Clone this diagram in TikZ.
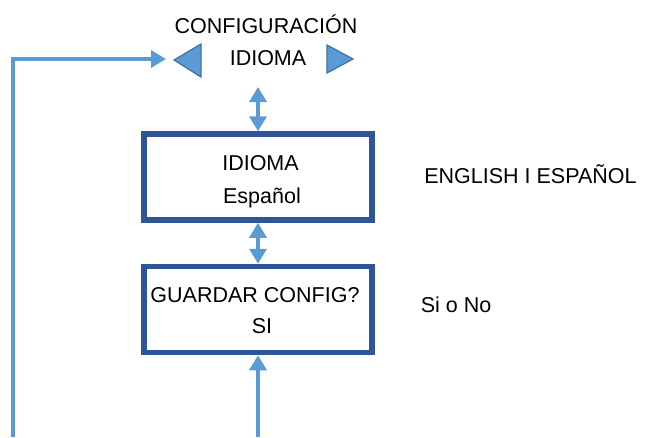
\documentclass[tikz,border=0pt]{standalone}
\usepackage{fontspec}
\setmainfont{Liberation Sans}
\usetikzlibrary{arrows.meta}
\definecolor{lblue}{HTML}{5B9BD5}
\definecolor{tborder}{HTML}{41719C}
\definecolor{dblue}{HTML}{2F5597}
\begin{document}
\begin{tikzpicture}[x=1pt,y=-1pt,
  txt/.style={anchor=base,inner sep=0pt,font=\fontsize{21.5}{25}\selectfont},
  box/.style={draw=dblue,line width=5.5pt,minimum width=228pt,minimum height=86pt,inner sep=0pt},
  conn/.style={draw=lblue,line width=3.5pt,-{Triangle[length=15pt,width=17pt]}},
  dconn/.style={draw=lblue,line width=3.5pt,{Triangle[length=15pt,width=17pt]}-{Triangle[length=15pt,width=17pt]}},
  tri/.style={fill=lblue,draw=tborder,line width=1.2pt,line join=miter}]
\useasboundingbox (0,0) rectangle (648,437);
% title texts
\node[txt] (conf) at (266,33) {CONFIGURACIÓN};
\node[txt] (idm) at (268,65) {IDIOMA};
% triangles
\coordinate (ltip) at (174,60);
\coordinate (rtip) at (353,59);
\draw[tri] (ltip) -- (201,44) -- (201,77) -- cycle;
\draw[tri] (rtip) -- (327,45) -- (327,73) -- cycle;
% boxes
\node[box] (b1) at (258,177) {};
\node[box] (b2) at (258,309.5) {};
\node[txt] (t1a) at (260.5,170) {IDIOMA};
\node[txt] (t1b) at (262,203) {Español};
\node[txt] (t2a) at (255,302) {GUARDAR CONFIG?};
\node[txt] (t2b) at (262,333) {SI};
% side texts
\node[txt] (eng) at (530.5,183) {ENGLISH I ESPAÑOL};
\node[txt] (sino) at (456,312) {Si o No};
% connectors
\coordinate (top1) at (258,87);
\draw[dconn] (top1) -- (b1.north);
\draw[dconn] (b1.south) -- (b2.north);
\coordinate (bot) at (258,437);
\draw[conn] (bot) -- (b2.south);
\coordinate (lbot) at (13,437);
\coordinate (lcorner) at (13,59);
\coordinate (lend) at (166,59);
\draw[conn] (lbot) -- (lcorner) -- (lend);
\end{tikzpicture}
\end{document}
